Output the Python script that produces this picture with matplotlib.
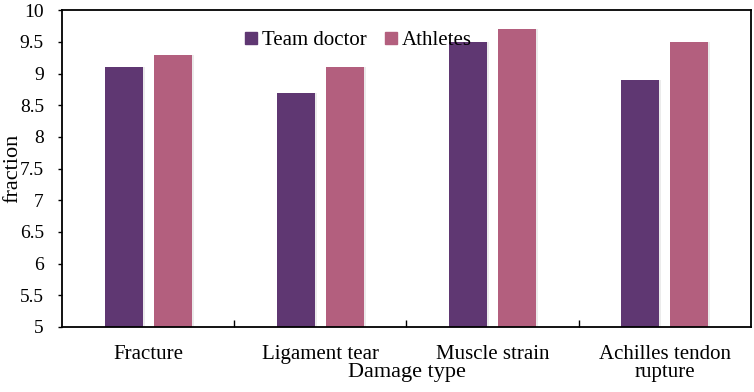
import numpy as np
import matplotlib
matplotlib.use("Agg")
import matplotlib.pyplot as plt
from matplotlib.lines import Line2D
from matplotlib import rcParams

rcParams["font.family"] = "Liberation Serif"

categories = ["Fracture", "Ligament tear", "Muscle strain", "Achilles tendon\nrupture"]
team_doctor = [9.1, 8.7, 9.5, 8.9]
athletes = [9.3, 9.1, 9.7, 9.5]
yticks = [5, 5.5, 6, 6.5, 7, 7.5, 8, 8.5, 9, 9.5, 10]
ytick_labels = ["5", "5.5", "6", "6.5", "7", "7.5", "8", "8.5", "9", "9.5", "10"]

C_DOC = "#5f3772"
C_ATH = "#b35f7e"

fig = plt.figure(figsize=(7.54, 3.92), dpi=100)
ax = fig.add_axes([0.0822, 0.166, 0.9138, 0.808])

x = np.arange(len(categories))
w = 0.22
off = 0.142
# faint shadow behind bars
for xs, vals in ((x - off, team_doctor), (x + off, athletes)):
    ax.bar(xs + 0.012, np.array(vals) - 5, w, bottom=5, color="#d8d8d8", alpha=0.5, zorder=1)
ax.bar(x - off, np.array(team_doctor) - 5, w, bottom=5, color=C_DOC, zorder=2)
ax.bar(x + off, np.array(athletes) - 5, w, bottom=5, color=C_ATH, zorder=2)

ax.set_xlim(-0.5, len(categories) - 0.5)
ax.set_ylim(5, 10)
ax.set_yticks(yticks)
ax.set_yticklabels(ytick_labels, fontsize=14)
ax.tick_params(axis="y", direction="out", length=3, width=1, pad=10)

# category labels, with ticks between groups
ax.set_xticks(x)
ax.set_xticklabels(categories, fontsize=15, linespacing=0.95)
ax.tick_params(axis="x", which="major", length=0, pad=13)
ax.set_xticks(x[:-1] + 0.5, minor=True)
ax.tick_params(axis="x", which="minor", direction="in", length=5, width=1)

ax.set_xlabel("Damage type", fontsize=16, va="center")
ax.xaxis.set_label_coords(0.5, -0.145)
ax.set_ylabel("fraction", fontsize=16, va="center")
ax.yaxis.set_label_coords(-0.072, 0.5)

for s in ax.spines.values():
    s.set_linewidth(1.3)
    s.set_color("black")

handles = [
    Line2D([], [], marker="s", linestyle="none", color=C_DOC, markersize=8.5),
    Line2D([], [], marker="s", linestyle="none", color=C_ATH, markersize=8.5),
]
ax.legend(handles, ["Team doctor", "Athletes"], loc="center", bbox_to_anchor=(0.43, 0.905),
          ncol=2, frameon=False, fontsize=15, handletextpad=0.25, columnspacing=0.85,
          handlelength=0.6, borderpad=0)

fig.savefig("out.png", dpi=100)
